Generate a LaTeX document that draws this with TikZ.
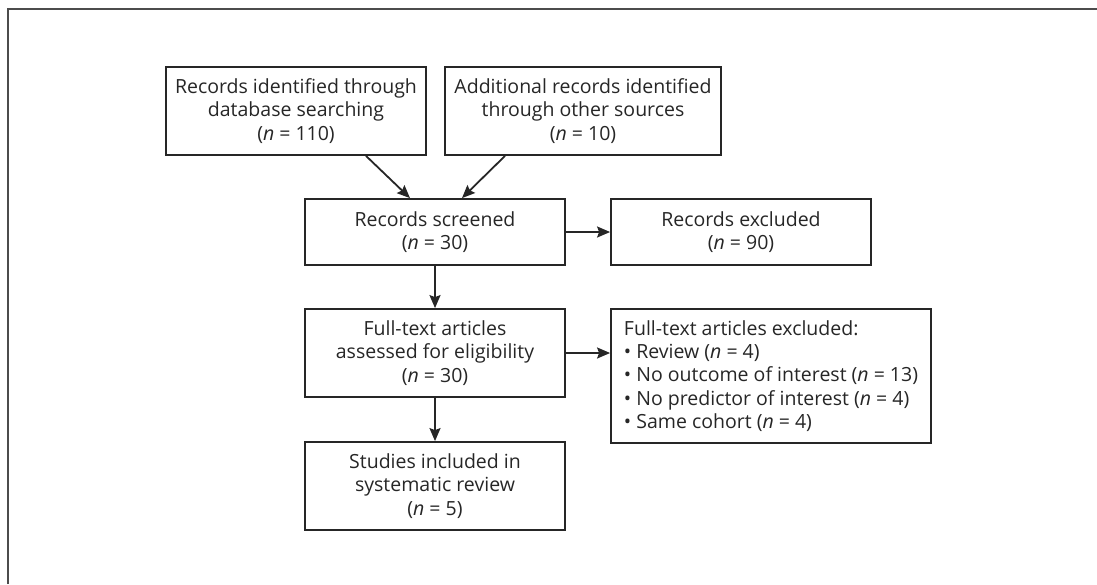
\documentclass[tikz,border=0pt]{standalone}
\usepackage{fontspec}
\setmainfont{Open Sans}
\usetikzlibrary{arrows.meta}
\definecolor{inkgray}{HTML}{262626}
\begin{document}
\begin{tikzpicture}[x=1pt, y=-1pt,
  box/.style={draw=inkgray, line width=1.8pt, rectangle, align=center, text=inkgray,
    font=\fontsize{19.5}{23.3}\selectfont, inner sep=0pt},
  flow/.style={-{Stealth[length=13pt, width=11pt, inset=2pt]}, line width=1.8pt, draw=inkgray}]
\useasboundingbox (0,0) rectangle (1097,584);
% Frame
\draw[line width=1.2pt, draw=black!70] (8,584) -- (8,9) -- (1097,9);

% Boxes
\node[box, minimum width=260pt, minimum height=88pt] (db) at (296,111)
  {Records identified through\\ database searching\\ (\textit{n} = 110)};
\node[box, minimum width=276pt, minimum height=88pt] (other) at (583,111)
  {Additional records identified\\ through other sources\\ (\textit{n} = 10)};
\node[box, minimum width=260pt, minimum height=66pt] (screened) at (435,232)
  {Records screened\\ (\textit{n} = 30)};
\node[box, minimum width=260pt, minimum height=66pt] (recexcl) at (741,232)
  {Records excluded\\ (\textit{n} = 90)};
\node[box, minimum width=260pt, minimum height=88pt] (fulltext) at (435,353)
  {Full-text articles\\ assessed for eligibility\\ (\textit{n} = 30)};
\node[box, minimum width=320pt, minimum height=134pt, align=left] (ftexcl) at (771,376)
  {Full-text articles excluded:\\
   \textbullet{} Review (\textit{n} = 4)\\
   \textbullet{} No outcome of interest (\textit{n} = 13)\\
   \textbullet{} No predictor of interest (\textit{n} = 4)\\
   \textbullet{} Same cohort (\textit{n} = 4)};
\node[box, minimum width=260pt, minimum height=88pt] (included) at (435,486)
  {Studies included in\\ systematic review\\ (\textit{n} = 5)};

% Arrows
\draw[flow] ([xshift=70pt]db.south) -- ([xshift=-25pt]screened.north);
\draw[flow] ([xshift=-78pt]other.south) -- ([xshift=27pt]screened.north);
\draw[flow] (screened) -- (recexcl);
\draw[flow] (screened) -- (fulltext);
\draw[flow] (fulltext.east) -- (fulltext.east -| ftexcl.west);
\draw[flow] (fulltext) -- (included);
\end{tikzpicture}
\end{document}
